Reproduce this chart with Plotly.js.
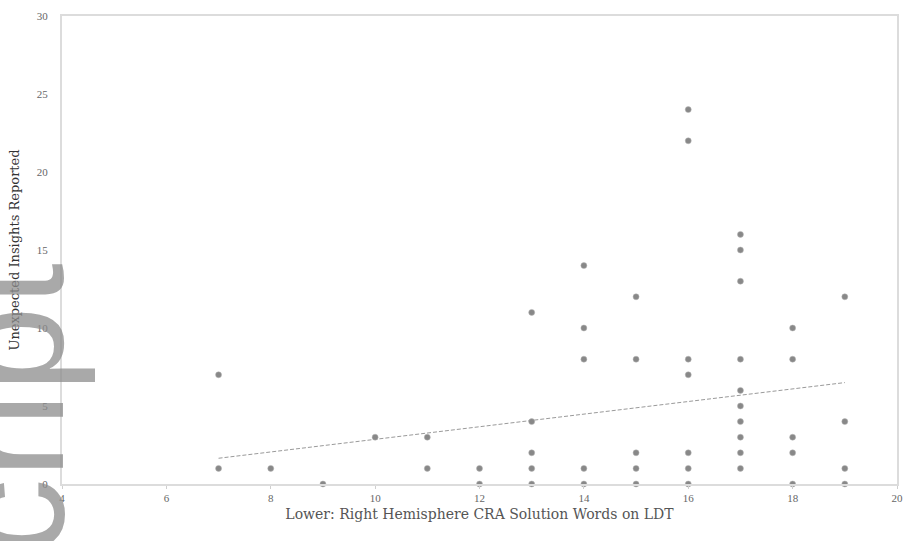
<!DOCTYPE html>
<html>
<head>
<meta charset="utf-8">
<script src="https://cdn.plot.ly/plotly-3.0.1.min.js"></script>
<style>html,body{margin:0;padding:0;background:#fff;}#chart{width:909px;height:541px;}</style>
</head>
<body>
<div id="chart"></div>
<script>
// Scatter points
const wordsX = [7,7,8,9,10,11,11,12,12,
  13,13,13,13,13,
  14,14,14,14,14,
  15,15,15,15,15,
  16,16,16,16,16,16,16,
  17,17,17,17,17,17,17,17,17,17,
  18,18,18,18,18,
  19,19,19,19];
const insightsY = [7,1,1,0,3,3,1,1,0,
  11,4,2,1,0,
  14,10,8,1,0,
  12,8,2,1,0,
  24,22,8,7,2,1,0,
  16,15,13,8,6,5,4,3,2,1,
  10,8,3,2,0,
  12,4,1,0];
// Fitted trend line end points
const trendX = [7, 19];
const trendY = [1.65, 6.5];
const xTicks = [4,6,8,10,12,14,16,18,20];
const yTicks = [0,5,10,15,20,25,30];
const xTitle = "Lower: Right Hemisphere CRA Solution Words on LDT";
const yTitle = "Unexpected Insights Reported";
const watermark = "cript";

const traces = [
  {x: trendX, y: trendY, type: 'scatter', mode: 'lines',
   line: {color: '#9a9a9a', width: 1, dash: '4px,2px'}, hoverinfo: 'skip'},
  {x: wordsX, y: insightsY, type: 'scatter', mode: 'markers', cliponaxis: false,
   marker: {color: '#888888', size: 6, line: {color: '#b5b5b5', width: 0.5}}}
];

const serif = 'Liberation Serif, DejaVu Serif, serif';
const wideSerif = 'DejaVu Serif, Liberation Serif, serif';
const layout = {
  width: 909, height: 541,
  margin: {l: 62, r: 12, t: 16, b: 57},
  paper_bgcolor: '#fff', plot_bgcolor: '#fff',
  showlegend: false,
  font: {family: serif, size: 11, color: '#666'},
  xaxis: {
    range: [4, 20], tickvals: xTicks, ticktext: xTicks.map(String),
    showgrid: false, zeroline: false,
    showline: true, linecolor: '#dcdcdc', linewidth: 2, mirror: true,
    ticks: 'outside', ticklen: 3, tickcolor: '#cfcfcf',
    tickfont: {family: serif, size: 11, color: '#666'},
    title: {text: xTitle, font: {family: wideSerif, size: 14, color: '#555'}, standoff: 6}
  },
  yaxis: {
    range: [0, 30], tickvals: yTicks, ticktext: yTicks.map(String),
    showgrid: false, zeroline: false,
    showline: true, linecolor: '#dcdcdc', linewidth: 2, mirror: true,
    ticks: '', ticklen: 0, ticklabelstandoff: 10,
    tickfont: {family: serif, size: 11, color: '#666'},
    title: {text: yTitle, font: {family: wideSerif, size: 13, color: '#333'}, standoff: 14}
  },
  annotations: [
    {text: watermark, xref: 'paper', yref: 'paper',
     x: (9 - 62) / 835, y: (541 - 57 - 410) / 468,
     xanchor: 'center', yanchor: 'middle', textangle: -90, showarrow: false,
     font: {family: 'Liberation Sans, Arial, sans-serif', size: 155, color: 'rgba(140,140,140,0.75)'}}
  ]
};

Plotly.newPlot('chart', traces, layout, {displayModeBar: false, staticPlot: true});
</script>
</body>
</html>
